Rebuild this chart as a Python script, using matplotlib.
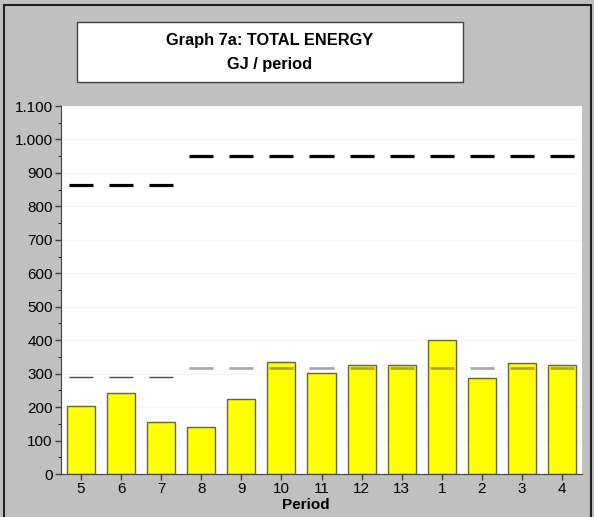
import matplotlib
matplotlib.use('Agg')
import matplotlib.pyplot as plt
from matplotlib.patches import Rectangle
from matplotlib.ticker import FuncFormatter, MultipleLocator
import numpy as np

plt.rcParams['font.family'] = ['Liberation Sans', 'DejaVu Sans']

# data
periods = ['5', '6', '7', '8', '9', '10', '11', '12', '13', '1', '2', '3', '4']
energy = [204, 243, 155, 140, 225, 336, 303, 325, 327, 401, 287, 333, 327]
upper_level = [864, 864, 864, 952, 952, 952, 952, 952, 952, 952, 952, 952, 952]
mid_level = [289, 289, 289, 317, 317, 317, 317, 317, 317, 317, 317, 317, 317]

fig = plt.figure(figsize=(5.94, 5.17), dpi=100, facecolor='#c0c0c0')

# outer frame
fig.patches.append(Rectangle((3.5 / 594, -0.01), 587.5 / 594, 1.01 - 5.5 / 517,
                             transform=fig.transFigure, fill=False,
                             edgecolor='#202020', linewidth=1.5))

# title box
fig.patches.append(Rectangle((77 / 594, 435 / 517), 386 / 594, 60 / 517,
                             transform=fig.transFigure, facecolor='white',
                             edgecolor='#404040', linewidth=1))
fig.text(270 / 594, (517 - 41) / 517, 'Graph 7a: TOTAL ENERGY', ha='center', va='center',
         fontsize=11.8, fontweight='bold')
fig.text(270 / 594, (517 - 64) / 517, 'GJ / period', ha='center', va='center',
         fontsize=11.8, fontweight='bold')

ax = fig.add_axes([61 / 594, 43 / 517, 521 / 594, 368 / 517])
ax.set_facecolor('white')

x = np.arange(len(periods))
ax.bar(x, energy, width=0.7, color='#ffff00', edgecolor='#606060', linewidth=1, zorder=2)

lo = x - 0.3
hi = x + 0.3
ax.hlines(upper_level, lo, hi, colors='black', linewidth=2.3, zorder=3)
ax.hlines(mid_level[:3], lo[:3], hi[:3], colors='black', alpha=0.7, linewidth=1, zorder=3)
ax.hlines(mid_level[3:], lo[3:], hi[3:], colors='#555555', alpha=0.5, linewidth=2, zorder=3)

ax.set_xlim(-0.5, 12.5)
ax.set_ylim(0, 1100)
ax.set_xticks(x, periods)
ax.yaxis.set_major_locator(MultipleLocator(100))
ax.yaxis.set_minor_locator(MultipleLocator(50))
ax.yaxis.set_major_formatter(FuncFormatter(lambda v, p: f'{v:,.0f}'.replace(',', '.')))
ax.grid(axis='y', color='#f7f7f7', linewidth=0.8, zorder=0)
ax.set_axisbelow(True)

for s in ['top', 'right']:
    ax.spines[s].set_visible(False)
for s in ['left', 'bottom']:
    ax.spines[s].set_color('#404040')
ax.tick_params(axis='both', labelsize=11, colors='black', length=4, width=1, pad=2)
ax.tick_params(axis='y', which='minor', length=2.5)
ax.tick_params(axis='both', color='#404040')

fig.text(306 / 594, (517 - 505) / 517, 'Period', ha='center', va='center',
         fontsize=11, fontweight='bold')

fig.savefig('out.png', dpi=100, facecolor=fig.get_facecolor())
